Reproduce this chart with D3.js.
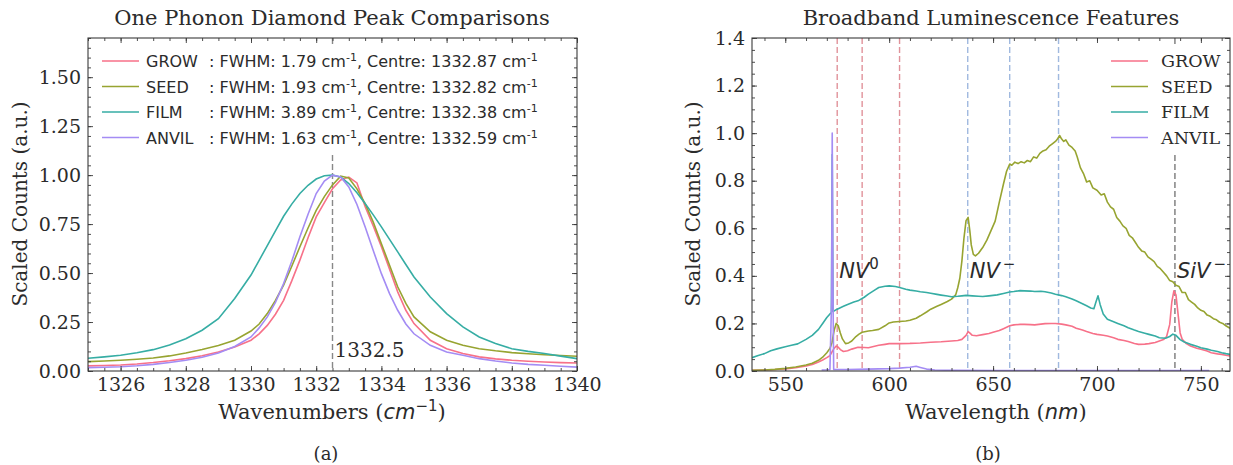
<!DOCTYPE html>
<html lang="en">
<head>
<meta charset="utf-8">
<title>Diamond Raman and luminescence</title>
<style>
  body { margin: 0; background: #fff; }
  svg text { fill: #2b2b2b; }
  .serif { font-family: "DejaVu Serif", serif; }
  .sans { font-family: "DejaVu Sans", sans-serif; }
  .frame { fill: none; stroke: #3a3a3a; stroke-width: 1.1; }
  .tick line { stroke: #3a3a3a; stroke-width: 0.9; }
</style>
</head>
<body>
<svg id="fig" width="1233" height="465"></svg>
<script src="https://cdnjs.cloudflare.com/ajax/libs/d3/7.8.5/d3.min.js"></script>
<script>
// ---------- panel (a): one phonon peak ----------
var peakWavenumbers = [1325, 1325.5, 1326, 1326.5, 1327, 1327.5, 1328, 1328.5, 1329, 1329.5, 1330,
  1330.25, 1330.5, 1330.75, 1331, 1331.25, 1331.5, 1331.75, 1332, 1332.25, 1332.5, 1332.75,
  1333, 1333.25, 1333.5, 1333.75, 1334, 1334.25, 1334.5, 1334.75, 1335,
  1335.5, 1336, 1336.5, 1337, 1337.5, 1338, 1338.5, 1339, 1339.5, 1340];
var growPeak = [.026, .028, .031, .036, .043, .052, .063, .078, .097, .122, .157,
  .19, .233, .29, .361, .46, .566, .68, .787, .86, .93, .975,
  .99, .96, .84, .74, .634, .52, .404, .31, .242,
  .157, .114, .089, .072, .062, .055, .05, .046, .043, .041];
var seedPeak = [.048, .051, .055, .06, .066, .077, .092, .11, .13, .157, .204,
  .24, .293, .36, .438, .535, .634, .73, .82, .89, .95, .995,
  .985, .93, .855, .76, .65, .54, .43, .345, .276,
  .2, .157, .131, .114, .103, .094, .088, .083, .079, .075];
var filmPeak = [.065, .072, .08, .093, .109, .133, .165, .208, .267, .37, .49,
  .565, .64, .715, .79, .852, .906, .948, .98, .997, 1.0, .99,
  .957, .91, .855, .797, .736, .672, .608, .544, .48,
  .378, .293, .225, .174, .14, .114, .1, .089, .076, .063];
var anvilPeak = [.017, .019, .022, .027, .034, .043, .055, .07, .092, .125, .174,
  .22, .276, .35, .446, .56, .685, .8, .906, .97, 1.0, .99,
  .94, .85, .736, .615, .497, .395, .31, .24, .19,
  .131, .097, .08, .063, .051, .041, .034, .029, .024, .02];
var sampleNames = ["GROW", "SEED", "FILM", "ANVIL"];
var fwhmValues = ["1.79", "1.93", "3.89", "1.63"];
var centreValues = ["1332.87", "1332.82", "1332.38", "1332.59"];
var peakMarker = 1332.5;
var peakTicks = [1326, 1328, 1330, 1332, 1334, 1336, 1338, 1340];
var peakYTicks = [0, 0.25, 0.5, 0.75, 1.0, 1.25, 1.5];

// ---------- panel (b): broadband luminescence ----------
var growNm = [534, 540, 545, 550, 555, 560, 563, 566, 568, 570, 571.5, 572.5, 573.5, 574.5, 575.5, 576.5, 578,
  580, 582, 585, 588, 590, 593, 595, 598, 600, 605, 610, 615, 620, 625, 630, 633, 635, 637, 638, 639, 640,
  642, 645, 648, 650, 653, 655, 658, 660, 663, 665, 668, 670, 673, 675, 678, 680, 683, 685, 688, 690, 693,
  695, 698, 700, 703, 705, 708, 710, 713, 715, 718, 720, 723, 725, 728, 730, 732, 733.5, 735, 736, 737,
  738, 739, 740, 741, 743, 745, 748, 750, 753, 755, 758, 760, 762, 764];
var growCounts = [.003, .004, .006, .009, .014, .021, .027, .038, .046, .056, .065, .08, .095, .105, .1, .09, .082,
  .085, .092, .1, .099, .098, .104, .108, .112, .115, .115, .116, .118, .121, .123, .126, .128, .133, .15, .166, .158, .15,
  .148, .153, .158, .163, .17, .178, .19, .194, .196, .196, .195, .194, .197, .199, .2, .2, .197, .194, .188, .18, .172,
  .166, .158, .154, .15, .147, .14, .133, .128, .124, .116, .112, .113, .115, .12, .126, .132, .145, .196, .29, .337,
  .32, .24, .16, .133, .115, .105, .096, .091, .084, .077, .072, .07, .066, .063];
var seedNm = [534, 540, 545, 550, 555, 560, 563, 566, 568, 570, 571.5, 572.5, 573.5, 574.5, 575.5, 576.5, 577.5,
  579, 580.5, 582, 584, 585.5, 587, 590, 592, 595, 598, 600, 602, 605, 608, 610, 613, 615, 618, 620, 623, 625,
  628, 630, 632, 633, 634, 635, 636, 637, 638, 638.8, 639.5, 640.5, 641.5, 643, 645, 647, 649, 651, 653, 655,
  656.5, 658, 659, 660.5, 662, 663.5, 665, 666.5, 668, 669.5, 671, 672.5, 674, 675.5, 677, 678.5, 680, 681,
  682, 683, 684, 685, 686.5, 688, 689.5, 690.5, 692, 693.5, 695, 696.5, 698, 700, 702, 703.5, 705, 706.5,
  708, 709.5, 711, 712.5, 714, 715.5, 717, 718.5, 720, 721.5, 723, 724.5, 726, 727.5, 729, 730.5, 732,
  733.5, 735, 736.5, 738, 739.5, 741, 742.5, 744, 745.5, 747, 748.5, 750, 751.5, 753, 754.5, 756, 757.5,
  759, 760.5, 762, 764];
var seedCounts = [.003, .004, .007, .011, .017, .025, .033, .045, .058, .077, .095, .12, .17, .2, .19, .16, .135,
  .115, .118, .126, .145, .155, .163, .168, .17, .175, .19, .202, .206, .208, .21, .213, .222, .232, .248, .26, .272, .28,
  .292, .302, .32, .35, .39, .463, .56, .632, .646, .59, .53, .49, .484, .495, .519, .55, .59, .63, .71, .786,
  .84, .87, .865, .878, .872, .88, .875, .885, .88, .9, .895, .915, .925, .93, .945, .955, .965, .975,
  .99, .975, .965, .972, .95, .94, .925, .9, .855, .83, .795, .8, .77, .76, .74, .745, .71, .69,
  .68, .645, .63, .61, .6, .57, .56, .54, .52, .505, .5, .48, .47, .46, .44, .43, .415,
  .4, .38, .375, .36, .355, .33, .33, .3, .29, .28, .265, .255, .25, .235, .23, .22, .215,
  .205, .2, .19, .18];
var filmNm = [534, 537, 540, 543, 546, 550, 553, 556, 560, 563, 566, 568, 570, 571.5, 572.2, 572.6, 573, 575,
  578, 580, 583, 585, 588, 590, 593, 595, 598, 600, 603, 605, 608, 610, 613, 615, 618, 620, 623, 625, 628,
  630, 633, 635, 637, 640, 643, 645, 648, 652, 655, 658, 660, 663, 665, 668, 670, 673, 675, 678, 680, 683,
  685, 688, 690, 693, 695, 697, 698.5, 699.5, 700.5, 701.5, 703, 705, 708, 710, 713, 715, 718, 720, 723,
  725, 728, 730, 733, 735, 736.5, 738, 740, 742, 745, 748, 750, 753, 755, 758, 760, 762, 764];
var filmCounts = [.056, .065, .073, .085, .093, .102, .108, .114, .133, .15, .175, .2, .225, .24, .245, .91, .25, .26,
  .272, .28, .29, .295, .31, .323, .34, .351, .356, .358, .355, .351, .344, .34, .336, .333, .33, .327, .322, .319, .315,
  .312, .314, .316, .318, .316, .314, .313, .316, .32, .326, .332, .334, .338, .337, .336, .334, .335, .333, .328, .323, .317,
  .312, .303, .295, .283, .274, .265, .262, .29, .316, .28, .24, .218, .207, .2, .19, .182, .172, .166, .159,
  .154, .147, .14, .138, .145, .155, .15, .132, .122, .112, .104, .098, .092, .087, .082, .077, .073, .07];
var anvilNm = [567.5, 570, 571.5, 572.3, 572.6, 572.9, 573.3, 580, 590, 600, 605, 610, 613, 615, 618, 622,
  630, 650, 700, 754];
var anvilCounts = [.004, .005, .006, .3, 1.0, .4, .006, .006, .008, .01, .012, .016, .02, .015, .008, .004,
  .003, .002, .002, .002];
var nv0Lines = [575, 587, 605];
var nvMinusLines = [637.8, 658, 681.5];
var sivLine = 737.5;
var lumTicks = [550, 600, 650, 700, 750];
var lumYTicks = [0, 0.2, 0.4, 0.6, 0.8, 1.0, 1.2, 1.4];

var colors = ["#f77189", "#97a431", "#36ada4", "#a48cf4"];

var svg = d3.select("#fig");

// inward ticks on all four sides, majors + minors
function drawFrame(g, x, y, xMajor, xMinorStep, yMajor, yMinorStep, xFmt, yFmt) {
    var x0 = x.range()[0], x1 = x.range()[1], y0 = y.range()[0], y1 = y.range()[1];
    var d = x.domain(), e = y.domain();
    var xMinor = d3.range(Math.ceil(d[0] / xMinorStep) * xMinorStep, d[1] + 1e-9, xMinorStep);
    var yMinor = d3.range(0, e[1] + 1e-9, yMinorStep);

    g.append("g").attr("transform", "translate(0," + y0 + ")")
        .call(d3.axisBottom(x).tickValues(xMajor).tickFormat(xFmt).tickSizeInner(-5).tickSizeOuter(0).tickPadding(7));
    g.append("g").attr("transform", "translate(0," + y0 + ")")
        .call(d3.axisBottom(x).tickValues(xMinor).tickFormat("").tickSizeInner(-3).tickSizeOuter(0));
    g.append("g").attr("transform", "translate(0," + y1 + ")")
        .call(d3.axisTop(x).tickValues(xMajor).tickFormat("").tickSizeInner(-5).tickSizeOuter(0));
    g.append("g").attr("transform", "translate(0," + y1 + ")")
        .call(d3.axisTop(x).tickValues(xMinor).tickFormat("").tickSizeInner(-3).tickSizeOuter(0));

    g.append("g").attr("transform", "translate(" + x0 + ",0)")
        .call(d3.axisLeft(y).tickValues(yMajor).tickFormat(yFmt).tickSizeInner(-5).tickSizeOuter(0).tickPadding(7));
    g.append("g").attr("transform", "translate(" + x0 + ",0)")
        .call(d3.axisLeft(y).tickValues(yMinor).tickFormat("").tickSizeInner(-3).tickSizeOuter(0));
    g.append("g").attr("transform", "translate(" + x1 + ",0)")
        .call(d3.axisRight(y).tickValues(yMajor).tickFormat("").tickSizeInner(-5).tickSizeOuter(0));
    g.append("g").attr("transform", "translate(" + x1 + ",0)")
        .call(d3.axisRight(y).tickValues(yMinor).tickFormat("").tickSizeInner(-3).tickSizeOuter(0));

    g.selectAll(".domain").remove();
    g.selectAll(".tick text").attr("class", "serif").style("font-size", "19px").attr("fill", "#2b2b2b");
    g.append("rect").attr("class", "frame")
        .attr("x", x0).attr("y", y1).attr("width", x1 - x0).attr("height", y0 - y1);
}

// ================= panel (a) =================
var xA = d3.scaleLinear().domain([1325, 1340]).range([88, 577]);
var yA = d3.scaleLinear().domain([0, 1.7]).range([371, 38]);
var gA = svg.append("g");

gA.append("defs").append("clipPath").attr("id", "clipA")
    .append("rect").attr("x", 88).attr("y", 38).attr("width", 489).attr("height", 333);

gA.append("line")
    .attr("x1", xA(peakMarker)).attr("x2", xA(peakMarker))
    .attr("y1", yA(1.7)).attr("y2", yA(0))
    .attr("stroke", "#888").attr("stroke-width", 1.4).attr("stroke-dasharray", "6,3");

var peakSeries = [growPeak, seedPeak, filmPeak, anvilPeak];
var lineA = d3.line()
    .x(function(d, i) { return xA(peakWavenumbers[i]); })
    .y(function(d) { return yA(d); });

gA.append("g").attr("clip-path", "url(#clipA)")
    .selectAll("path").data(peakSeries).enter().append("path")
    .attr("d", lineA)
    .attr("fill", "none")
    .attr("stroke", function(d, i) { return colors[i]; })
    .attr("stroke-width", 1.6);

gA.append("text").attr("class", "serif")
    .attr("x", xA(peakMarker) + 2).attr("y", 357)
    .style("font-size", "20px").text("1332.5");

// legend with white box
var legA = gA.append("g");
legA.append("rect").attr("x", 94).attr("y", 45).attr("width", 462).attr("height", 108).attr("fill", "#fff");
sampleNames.forEach(function(name, i) {
    var yy = 61 + i * 25.5;
    legA.append("line").attr("x1", 102).attr("x2", 139).attr("y1", yy).attr("y2", yy)
        .attr("stroke", colors[i]).attr("stroke-width", 1.6);
    legA.append("text").attr("class", "sans").attr("x", 146).attr("y", yy + 6)
        .style("font-size", "16px").text(name);
    var t = legA.append("text").attr("class", "sans").attr("x", 209).attr("y", yy + 6)
        .style("font-size", "16px");
    t.append("tspan").text(": FWHM: " + fwhmValues[i] + " cm");
    t.append("tspan").attr("dy", -6).style("font-size", "11px").text("-1");
    t.append("tspan").attr("dy", 6).text(", Centre: " + centreValues[i] + " cm");
    t.append("tspan").attr("dy", -6).style("font-size", "11px").text("-1");
});

drawFrame(gA, xA, yA, peakTicks, 0.5, peakYTicks, 0.05, d3.format("d"), d3.format(".2f"));

gA.append("text").attr("class", "serif")
    .attr("x", 332).attr("y", 25).attr("text-anchor", "middle")
    .style("font-size", "21px").text("One Phonon Diamond Peak Comparisons");

var xlabA = gA.append("text").attr("class", "serif")
    .attr("x", 332).attr("y", 419).attr("text-anchor", "middle").style("font-size", "21px");
xlabA.append("tspan").text("Wavenumbers (");
xlabA.append("tspan").attr("class", "sans").style("font-style", "italic").text("cm");
xlabA.append("tspan").attr("class", "sans").attr("dy", -8).style("font-size", "15px").text("\u22121");
xlabA.append("tspan").attr("dy", 8).text(")");

gA.append("text").attr("class", "serif")
    .attr("transform", "translate(27,204) rotate(-90)").attr("text-anchor", "middle")
    .style("font-size", "20px").text("Scaled Counts (a.u.)");

gA.append("text").attr("class", "serif")
    .attr("x", 326).attr("y", 460).attr("text-anchor", "middle")
    .style("font-size", "18px").text("(a)");

// ================= panel (b) =================
var xB = d3.scaleLinear().domain([534, 764]).range([752, 1230]);
var yB = d3.scaleLinear().domain([0, 1.4]).range([371, 38]);
var gB = svg.append("g");

gB.append("defs").append("clipPath").attr("id", "clipB")
    .append("rect").attr("x", 752).attr("y", 38).attr("width", 478).attr("height", 333);

function vline(v, col) {
    gB.append("line")
        .attr("x1", xB(v)).attr("x2", xB(v))
        .attr("y1", yB(1.4)).attr("y2", yB(0))
        .attr("stroke", col).attr("stroke-width", 1.4).attr("stroke-dasharray", "6,3");
}
nv0Lines.forEach(function(v) { vline(v, "rgba(214,110,120,0.75)"); });
nvMinusLines.forEach(function(v) { vline(v, "rgba(120,155,210,0.7)"); });
vline(sivLine, "#7a7a7a");

var lumSeries = [
    { nm: growNm, c: growCounts },
    { nm: seedNm, c: seedCounts },
    { nm: filmNm, c: filmCounts },
    { nm: anvilNm, c: anvilCounts }
];

gB.append("g").attr("clip-path", "url(#clipB)")
    .selectAll("path").data(lumSeries).enter().append("path")
    .attr("d", function(s) {
        return d3.line()
            .x(function(d, i) { return xB(s.nm[i]); })
            .y(function(d) { return yB(d); })(s.c);
    })
    .attr("fill", "none")
    .attr("stroke", function(d, i) { return colors[i]; })
    .attr("stroke-width", 1.6)
    .attr("stroke-linejoin", "round");

// defect labels
function defectLabel(v, base, sup) {
    var t = gB.append("text").attr("class", "sans")
        .attr("x", xB(v) + 2).attr("y", yB(0.39)).style("font-size", "21px");
    t.append("tspan").style("font-style", "italic").text(base);
    t.append("tspan").attr("dy", -9).style("font-size", "15px").text(sup);
}
defectLabel(nv0Lines[0], "NV", "0");
defectLabel(nvMinusLines[0], "NV", "\u2009\u2212");
defectLabel(sivLine, "SiV", "\u2009\u2212");

var legB = gB.append("g");
legB.append("rect").attr("x", 1100).attr("y", 45).attr("width", 129).attr("height", 108).attr("fill", "#fff");
sampleNames.forEach(function(name, i) {
    var yy = 61 + i * 25.5;
    legB.append("line").attr("x1", 1111).attr("x2", 1148).attr("y1", yy).attr("y2", yy)
        .attr("stroke", colors[i]).attr("stroke-width", 1.6);
    legB.append("text").attr("class", "serif").attr("x", 1161).attr("y", yy + 6)
        .style("font-size", "17.5px").text(name);
});

drawFrame(gB, xB, yB, lumTicks, 10, lumYTicks, 0.05, d3.format("d"), d3.format(".1f"));

gB.append("text").attr("class", "serif")
    .attr("x", 991).attr("y", 25).attr("text-anchor", "middle")
    .style("font-size", "21px").text("Broadband Luminescence Features");

var xlabB = gB.append("text").attr("class", "serif")
    .attr("x", 996).attr("y", 419).attr("text-anchor", "middle").style("font-size", "21px");
xlabB.append("tspan").text("Wavelength (");
xlabB.append("tspan").attr("class", "sans").style("font-style", "italic").text("nm");
xlabB.append("tspan").text(")");

gB.append("text").attr("class", "serif")
    .attr("transform", "translate(700,204) rotate(-90)").attr("text-anchor", "middle")
    .style("font-size", "20px").text("Scaled Counts (a.u.)");

gB.append("text").attr("class", "serif")
    .attr("x", 988).attr("y", 460).attr("text-anchor", "middle")
    .style("font-size", "18px").text("(b)");
</script>
</body>
</html>
